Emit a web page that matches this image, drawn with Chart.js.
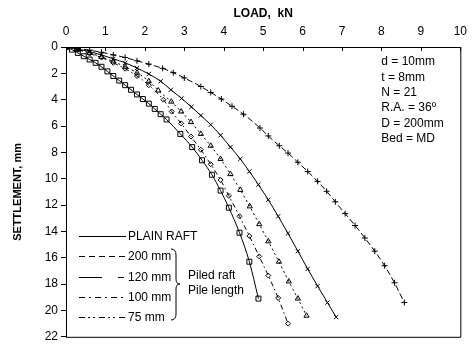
<!DOCTYPE html>
<html>
<head>
<meta charset="utf-8">
<script src="https://cdn.jsdelivr.net/npm/chart.js@4/dist/chart.umd.min.js"></script>
<style>
  html, body { margin: 0; padding: 0; background: #fff; }
  #wrap { width: 475px; height: 347px; }
</style>
</head>
<body>
<div id="wrap"><canvas id="grafico" width="475" height="347"></canvas></div>
<script>
// valores (carga kN, recalque mm)
const plainLoad = [0, 0.15, 0.3, 0.45, 0.6, 0.75, 0.9, 1.05, 1.2, 1.35, 1.5, 1.65, 1.8, 1.95, 2.1, 2.25, 2.4, 2.55, 2.9, 3.2, 3.45, 3.7, 3.92, 4.13, 4.4, 4.65, 4.88];
const plainSettle = [0, 0.2, 0.45, 0.7, 0.95, 1.2, 1.5, 1.85, 2.2, 2.55, 2.9, 3.25, 3.6, 3.95, 4.3, 4.7, 5.1, 5.5, 6.6, 7.6, 8.6, 9.7, 10.9, 12.2, 14.1, 16.3, 19.1];

const p200Load = [0, 0.3, 0.6, 0.9, 1.2, 1.5, 1.8, 2.1, 2.45, 2.72, 3.0, 3.42, 3.67, 3.94, 4.21, 4.5, 4.92, 5.13, 5.41, 5.63, 5.88, 6.13, 6.38, 6.61, 6.83, 7.08, 7.33, 7.58, 7.83, 8.08, 8.33, 8.58];
const p200Settle = [0, 0.1, 0.25, 0.4, 0.6, 0.8, 1.05, 1.3, 1.62, 1.95, 2.35, 3.0, 3.45, 3.95, 4.5, 5.1, 6.15, 6.75, 7.5, 8.05, 8.75, 9.45, 10.2, 10.95, 11.75, 12.65, 13.55, 14.5, 15.5, 16.6, 17.9, 19.4];

const p120Load = [0, 0.3, 0.6, 0.9, 1.2, 1.5, 1.8, 2.1, 2.4, 2.66, 2.93, 3.18, 3.42, 3.67, 3.92, 4.17, 4.42, 4.65, 4.88, 5.13, 5.38, 5.63, 5.88, 6.13, 6.38, 6.63, 6.85];
const p120Settle = [0, 0.15, 0.35, 0.6, 0.9, 1.2, 1.6, 2.05, 2.6, 3.25, 3.9, 4.55, 5.2, 5.9, 6.7, 7.6, 8.5, 9.45, 10.45, 11.6, 12.85, 14.15, 15.5, 16.85, 18.15, 19.4, 20.5];

const p100Load = [0, 0.3, 0.6, 0.9, 1.2, 1.5, 1.8, 2.1, 2.34, 2.67, 2.92, 3.17, 3.42, 3.67, 3.92, 4.17, 4.42, 4.66, 4.9, 5.13, 5.4, 5.65, 5.88, 6.1];
const p100Settle = [0, 0.2, 0.45, 0.75, 1.1, 1.5, 1.95, 2.6, 3.3, 4.15, 4.9, 5.7, 6.6, 7.5, 8.5, 9.65, 10.85, 12.1, 13.45, 14.75, 16.3, 17.8, 19.1, 20.4];

const p75Load = [0, 0.3, 0.6, 0.9, 1.2, 1.5, 1.8, 2.1, 2.47, 2.68, 2.92, 3.17, 3.42, 3.67, 3.92, 4.13, 4.4, 4.65, 4.9, 5.13, 5.38, 5.63];
const p75Settle = [0, 0.2, 0.5, 0.8, 1.2, 1.65, 2.2, 2.9, 4.0, 4.9, 5.8, 6.8, 7.8, 8.9, 10.1, 11.3, 12.85, 14.35, 15.9, 17.35, 19.05, 21.0];

const loadTicks = [0, 1, 2, 3, 4, 5, 6, 7, 8, 9, 10];
const infoLines = ['d = 10mm', 't = 8mm', 'N = 21', 'R.A. = 36º', 'D = 200mm', 'Bed = MD'];
const legendRows = [
  { label: 'PLAIN RAFT', dash: [] },
  { label: '200 mm', dash: [6, 4] },
  { label: '120 mm', dash: [23, 16, 6, 60] },
  { label: '100 mm', dash: [6, 4, 2, 4] },
  { label: '75 mm', dash: [6, 3, 2, 3, 2, 4] }
];

const FONT = '"Liberation Sans", Arial, sans-serif';

function pares(xs, ys) {
  return xs.map((x, i) => ({ x: x, y: ys[i] }));
}

function serie(xs, ys, estilo, raio, dash) {
  return {
    data: pares(xs, ys),
    borderColor: '#000',
    borderWidth: 1,
    borderDash: dash,
    pointStyle: estilo,
    pointRadius: raio,
    pointBorderWidth: 1,
    pointBorderColor: '#000',
    pointBackgroundColor: 'rgba(0,0,0,0)',
    cubicInterpolationMode: 'monotone',
    fill: false
  };
}

// desenha moldura, marcas internas, texto e legenda própria
const extras = {
  id: 'extras',
  afterDraw(chart) {
    const ctx = chart.ctx;
    const a = chart.chartArea;
    const xs = chart.scales.x;
    ctx.save();
    ctx.strokeStyle = '#000';
    ctx.lineWidth = 1;
    ctx.setLineDash([]);
    ctx.beginPath();
    ctx.moveTo(a.left, a.bottom + 0.5);
    ctx.lineTo(a.right + 0.5, a.bottom + 0.5);
    ctx.lineTo(a.right + 0.5, a.top);
    ctx.stroke();

    loadTicks.forEach((v) => {
      const px = Math.round(xs.getPixelForValue(v)) + 0.5;
      ctx.beginPath();
      ctx.moveTo(px, a.top);
      ctx.lineTo(px, a.top + 4);
      ctx.stroke();
    });

    ctx.fillStyle = '#000';
    ctx.font = '12px ' + FONT;
    ctx.textBaseline = 'middle';
    ctx.textAlign = 'left';
    infoLines.forEach((t, i) => {
      ctx.fillText(t, a.right - 79, a.top + 15 + i * 15.3);
    });

    // legenda
    const lx0 = a.left + 13;
    legendRows.forEach((r, i) => {
      const y = Math.round(a.top + 189 + i * 20.3) + 0.5;
      ctx.setLineDash(r.dash);
      ctx.beginPath();
      ctx.moveTo(lx0, y);
      ctx.lineTo(lx0 + 47, y);
      ctx.stroke();
      ctx.setLineDash([]);
      ctx.fillText(r.label, lx0 + 49, y);
    });

    // chave
    const bx = a.left + 109, bt = a.top + 202, bb = a.top + 273, bm = a.top + 237;
    ctx.beginPath();
    ctx.moveTo(bx - 4, bt);
    ctx.quadraticCurveTo(bx + 1, bt, bx + 1, bt + 6);
    ctx.lineTo(bx + 1, bm - 5);
    ctx.quadraticCurveTo(bx + 1, bm, bx + 5, bm);
    ctx.quadraticCurveTo(bx + 1, bm, bx + 1, bm + 5);
    ctx.lineTo(bx + 1, bb - 6);
    ctx.quadraticCurveTo(bx + 1, bb, bx - 4, bb);
    ctx.stroke();
    ctx.fillText('Piled raft', bx + 13, a.top + 229);
    ctx.fillText('Pile length', bx + 13, a.top + 244);
    ctx.restore();
  }
};

document.addEventListener('DOMContentLoaded', () => {
  const ctx = document.getElementById('grafico');
  new Chart(ctx, {
    type: 'line',
    data: {
      datasets: [
        serie(plainLoad, plainSettle, 'rect', 3.5, []),
        serie(p200Load, p200Settle, 'cross', 3, [6, 3]),
        serie(p120Load, p120Settle, 'crossRot', 3, []),
        serie(p100Load, p100Settle, 'triangle', 3, [2, 3]),
        serie(p75Load, p75Settle, 'rectRot', 2.5, [5, 3, 1.5, 3])
      ]
    },
    options: {
      responsive: false,
      devicePixelRatio: 1,
      animation: false,
      layout: { padding: { top: 0, right: 8, bottom: 4, left: 0 } },
      plugins: {
        legend: { display: false },
        tooltip: { enabled: false }
      },
      scales: {
        x: {
          type: 'linear',
          position: 'top',
          min: 0,
          max: 10,
          afterFit: (s) => { s.height = 47; },
          afterBuildTicks: (s) => { s.ticks = loadTicks.map((v) => ({ value: v })); },
          ticks: { color: '#000', font: { family: FONT, size: 12 }, padding: 8, maxRotation: 0 },
          grid: { drawOnChartArea: false, drawTicks: false },
          border: { display: true, color: '#000', width: 1 },
          title: {
            display: true,
            text: 'LOAD,  kN',
            color: '#000',
            font: { family: FONT, size: 12, weight: 'bold' },
            padding: { top: 6, bottom: 0 }
          }
        },
        y: {
          type: 'linear',
          reverse: true,
          min: 0,
          max: 22,
          afterFit: (s) => { s.width = 66; },
          ticks: { stepSize: 2, color: '#000', font: { family: FONT, size: 12 }, padding: 3 },
          grid: { drawOnChartArea: false, drawTicks: true, tickLength: 5, color: '#000' },
          border: { display: true, color: '#000', width: 1 },
          title: {
            display: true,
            text: 'SETTLEMENT, mm',
            color: '#000',
            font: { family: FONT, size: 11, weight: 'bold' },
            padding: { top: 11, bottom: 0 }
          }
        }
      }
    },
    plugins: [extras]
  });
});
</script>
</body>
</html>
